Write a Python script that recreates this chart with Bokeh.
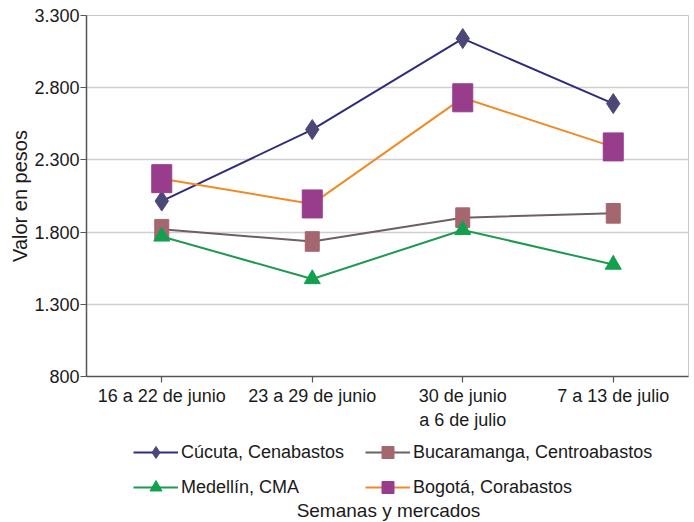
from bokeh.plotting import figure
from bokeh.layouts import column
from bokeh.models import FixedTicker, Legend, LegendItem, Label, Range1d
from bokeh.embed import file_html
from bokeh.resources import INLINE

semanas = ["16 a 22 de junio", "23 a 29 de junio", "30 de junio\na 6 de julio", "7 a 13 de julio"]
cucuta = [2015, 2510, 3140, 2690]
bucaramanga = [1820, 1735, 1900, 1930]
medellin = [1770, 1475, 1815, 1575]
bogota = [2170, 1995, 2730, 2390]
y_ticks = [800, 1300, 1800, 2300, 2800, 3300]
y_tick_labels = ["800", "1.300", "1.800", "2.300", "2.800", "3.300"]
series_names = ["Cúcuta, Cenabastos", "Bucaramanga, Centroabastos", "Medellín, CMA", "Bogotá, Corabastos"]

xs = list(range(len(semanas)))
FONT = "Liberation Sans"
TXT = "#1a1a1a"

styles = [
    dict(line="#2f2c80", marker="diamond", size=20, fill="#4b4877"),
    dict(line="#6e6060", marker="square", size=14, fill="#a5676f"),
    dict(line="#1d9a4f", marker="triangle", size=16, fill="#12a04e"),
    dict(line="#f08a24", marker="square", size=20, fill="#983d8c"),
]
all_series = [cucuta, bucaramanga, medellin, bogota]

p = figure(width=694, height=432, output_backend="svg", toolbar_location=None,
           x_range=Range1d(-0.5, 3.5), y_range=Range1d(800, 3300),
           min_border_left=86, min_border_top=15, min_border_right=6, min_border_bottom=53)

p.outline_line_color = "#c8c8c8"
p.outline_line_width = 1
p.xgrid.grid_line_color = None
p.ygrid.grid_line_color = "#cfcfcf"
p.ygrid.grid_line_width = 1.5

p.yaxis.ticker = FixedTicker(ticks=y_ticks)
p.yaxis.major_label_overrides = {t: l for t, l in zip(y_ticks, y_tick_labels)}
p.xaxis.ticker = FixedTicker(ticks=xs)
p.xaxis.major_label_overrides = {i: s for i, s in zip(xs, semanas)}
for ax in (p.xaxis, p.yaxis):
    ax.axis_line_color = "#555555"
    ax.axis_line_width = 1.5
    ax.major_tick_line_color = "#555555"
    ax.major_tick_line_width = 1.2
    ax.major_tick_in = 0
    ax.major_tick_out = 6
    ax.minor_tick_line_color = None
    ax.major_label_text_font = FONT
    ax.major_label_text_font_size = "18px"
    ax.major_label_text_color = TXT
p.xaxis.major_label_standoff = 3
p.yaxis.major_label_standoff = 1
p.yaxis.axis_label = "Valor en pesos"
p.yaxis.axis_label_text_font = FONT
p.yaxis.axis_label_text_font_size = "20px"
p.yaxis.axis_label_text_font_style = "normal"
p.yaxis.axis_label_text_color = TXT
p.yaxis.axis_label_standoff = 0

for vals, st in zip(all_series, styles):
    p.line(xs, vals, line_color=st["line"], line_width=2)
    if st["marker"] == "square":
        # tall rectangular markers as in the original
        p.rect(xs, vals, width=st["size"], height=st["size"] * 1.4,
               width_units="screen", height_units="screen",
               fill_color=st["fill"], line_color=st["fill"])
    else:
        p.scatter(xs, vals, marker=st["marker"], size=st["size"],
                  fill_color=st["fill"], line_color=st["fill"])

# Second strip: legend and x-axis title (its frame is aligned with the main plot's frame)
p2 = figure(width=694, height=90, output_backend="svg", toolbar_location=None,
            x_range=Range1d(-0.5, 3.5), y_range=Range1d(0, 1),
            x_axis_type=None, y_axis_type=None,
            min_border_left=0, min_border_right=0, min_border_top=0, min_border_bottom=0)
p2.outline_line_color = None
p2.xgrid.grid_line_color = None
p2.ygrid.grid_line_color = None

items = []
for name, vals, st in zip(series_names, all_series, styles):
    # same data; lies outside this strip's y-range, so only the legend swatch shows
    lr = p2.line(xs, vals, line_color=st["line"], line_width=2)
    mr = p2.scatter(xs, vals, marker=st["marker"], fill_color=st["fill"], line_color=st["fill"])
    items.append(LegendItem(label=name, renderers=[lr, mr]))

legend = Legend(items=items, ncols=2, location=(47, 20), orientation="horizontal")
legend.border_line_color = None
legend.background_fill_alpha = 0
legend.label_text_font = FONT
legend.label_text_font_size = "18px"
legend.label_text_color = TXT
legend.glyph_width = 45
legend.glyph_height = 30
legend.label_standoff = 3
legend.label_width = 179
legend.spacing = 5
legend.padding = 0
legend.margin = 0
p2.add_layout(legend, "center")

title = Label(x=302, y=12, x_units="screen", y_units="screen", text="Semanas y mercados",
              text_font=FONT, text_font_size="19px", text_color=TXT,
              text_align="center", text_baseline="middle")
p2.add_layout(title)

layout = column(p, p2, spacing=0)
open("out.html", "w").write(file_html(layout, INLINE))
